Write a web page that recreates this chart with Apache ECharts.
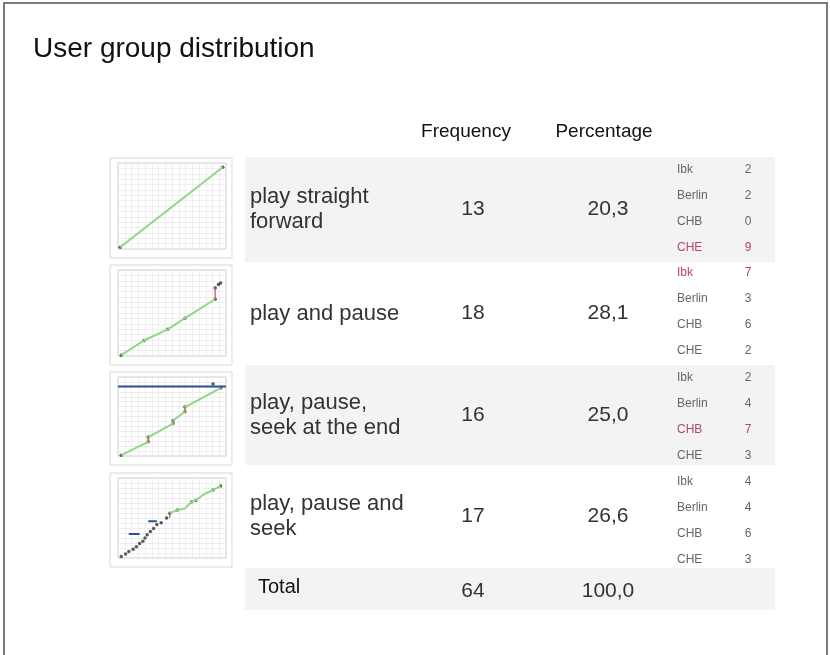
<!DOCTYPE html>
<html><head><meta charset="utf-8">
<script src="https://cdn.jsdelivr.net/npm/echarts@6/dist/echarts.min.js"></script>
<style>html,body{margin:0;padding:0;background:#fff}#c{width:830px;height:655px}</style>
</head><body><div id="c"></div>
<script>
// ---- data ----
var behaviors = ['play straight\nforward', 'play and pause', 'play, pause,\nseek at the end', 'play, pause and\nseek'];
var frequency = [13, 18, 16, 17];
var percentage = ['20,3', '28,1', '25,0', '26,6'];
var totalFrequency = 64;
var totalPercentage = '100,0';
var cities = ['Ibk', 'Berlin', 'CHB', 'CHE'];
var cityCounts = [[2, 2, 0, 9], [7, 3, 6, 2], [2, 4, 7, 3], [4, 4, 6, 3]];
var highlightCity = [3, 0, 2, -1];
// thumbnail traces (normalised 0-100 playback coordinates)
var thumbGreen = [
  [[2, 2], [97, 95]],
  [[3, 1], [24, 18], [46, 31], [62, 44], [90, 66]],
  [[3, 1], [28, 18], [28, 24], [51, 41], [51, 45], [62, 56], [62, 62], [95, 86]],
  [[48, 56], [55, 60], [62, 62], [68, 70], [72, 72], [80, 80], [88, 85], [95, 90]]
];
var thumbRed = [
  [],
  [[90, 66], [90, 79]],
  [[28, 18], [28, 24], null, [51, 41], [51, 45], null, [62, 56], [62, 62]],
  [[48, 50], [48, 56]]
];
var thumbBlue = [
  [],
  [],
  [[0, 88], [100, 88]],
  [[10, 30], [20, 30], null, [28, 46], [36, 46]]
];
var thumbMarks = [
  [[2, 2], [97, 95]],
  [[3, 1], [24, 18], [46, 31], [62, 44], [90, 66], [90, 79], [93, 83], [95, 85]],
  [[3, 1], [28, 18], [28, 24], [51, 41], [51, 45], [62, 56], [62, 62], [88, 91], [95, 86]],
  [[3, 2], [7, 5], [10, 8], [14, 11], [17, 14], [20, 18], [23, 21], [25, 25], [27, 29], [30, 33],
   [33, 37], [36, 42], [40, 44], [45, 50], [48, 56], [55, 60], [68, 70], [72, 72], [88, 85], [95, 90]]
];

// ---- layout ----
var rowTop = [157, 262, 365, 465];
var rowH = [105, 103, 100, 102];
var cityStartY = [170, 273, 378, 482];
var thumbBox = [[110, 158, 122, 100], [110, 265, 122, 100], [110, 372, 122, 93], [110, 473, 122, 94]];
var colFreqX = 473, colPctX = 608;
var fontMain = '"Liberation Sans", Arial, sans-serif';

var graphic = [];
graphic.push({type: 'rect', shape: {x: 4, y: 3, width: 823, height: 670}, style: {fill: 'none', stroke: '#7a7a7a', lineWidth: 2}, silent: true});
graphic.push({type: 'text', x: 33, y: 49, style: {text: 'User group distribution', font: '28px ' + fontMain, fill: '#111', textVerticalAlign: 'middle'}});
graphic.push({type: 'text', x: 466, y: 132, style: {text: 'Frequency', font: '19px ' + fontMain, fill: '#111', textAlign: 'center', textVerticalAlign: 'middle'}});
graphic.push({type: 'text', x: 604, y: 132, style: {text: 'Percentage', font: '19px ' + fontMain, fill: '#111', textAlign: 'center', textVerticalAlign: 'middle'}});

// shaded rows
[0, 2].forEach(function (i) {
  graphic.push({type: 'rect', z: -1, shape: {x: 245, y: rowTop[i], width: 530, height: rowH[i]}, style: {fill: '#f3f3f3'}});
});
graphic.push({type: 'rect', z: -1, shape: {x: 245, y: 568, width: 530, height: 42}, style: {fill: '#f3f3f3'}});

behaviors.forEach(function (b, i) {
  var cy = rowTop[i] + rowH[i] / 2;
  graphic.push({type: 'text', x: 250, y: cy, style: {text: b, font: '22px ' + fontMain, fill: '#333', textVerticalAlign: 'middle', lineHeight: 25}});
  graphic.push({type: 'text', x: colFreqX, y: cy, style: {text: String(frequency[i]), font: '21px ' + fontMain, fill: '#333', textAlign: 'center', textVerticalAlign: 'middle'}});
  graphic.push({type: 'text', x: colPctX, y: cy, style: {text: percentage[i], font: '21px ' + fontMain, fill: '#333', textAlign: 'center', textVerticalAlign: 'middle'}});
  cities.forEach(function (c, j) {
    var y = cityStartY[i] + j * 25.8;
    var col = highlightCity[i] === j ? '#b24a64' : '#666';
    graphic.push({type: 'text', x: 677, y: y, style: {text: c, font: '12px ' + fontMain, fill: col, textVerticalAlign: 'middle'}});
    graphic.push({type: 'text', x: 748, y: y, style: {text: String(cityCounts[i][j]), font: '12px ' + fontMain, fill: col, textAlign: 'center', textVerticalAlign: 'middle'}});
  });
  var tb = thumbBox[i];
  graphic.push({type: 'rect', z: -1, shape: {x: tb[0], y: tb[1], width: tb[2], height: tb[3]}, style: {fill: '#fff', stroke: '#d8d8d8', lineWidth: 1}});
});
graphic.push({type: 'text', x: 258, y: 587, style: {text: 'Total', font: '20px ' + fontMain, fill: '#111', textVerticalAlign: 'middle'}});
graphic.push({type: 'text', x: colFreqX, y: 591, style: {text: String(totalFrequency), font: '21px ' + fontMain, fill: '#333', textAlign: 'center', textVerticalAlign: 'middle'}});
graphic.push({type: 'text', x: colPctX, y: 591, style: {text: totalPercentage, font: '21px ' + fontMain, fill: '#333', textAlign: 'center', textVerticalAlign: 'middle'}});

var grids = [], xAxes = [], yAxes = [], series = [];
thumbBox.forEach(function (tb, i) {
  grids.push({left: tb[0] + 8, top: tb[1] + 5, width: tb[2] - 14, height: tb[3] - 14, show: true, borderColor: '#cfcfcf', borderWidth: 1, backgroundColor: '#fff'});
  var ax = {gridIndex: i, type: 'value', min: 0, max: 100, interval: 6.25,
    axisLine: {show: false}, axisTick: {show: false}, axisLabel: {show: false},
    splitLine: {show: true, lineStyle: {color: '#e4e4e4', width: 0.6}}};
  xAxes.push(Object.assign({}, ax));
  yAxes.push(Object.assign({}, ax));
  series.push({type: 'line', xAxisIndex: i, yAxisIndex: i, data: thumbBlue[i], showSymbol: false, connectNulls: false, lineStyle: {color: '#2f4f9a', width: 2}, silent: true, animation: false});
  series.push({type: 'line', xAxisIndex: i, yAxisIndex: i, data: thumbGreen[i], showSymbol: false, lineStyle: {color: '#8ed885', width: 2}, silent: true, animation: false});
  series.push({type: 'line', xAxisIndex: i, yAxisIndex: i, data: thumbRed[i], showSymbol: false, connectNulls: false, lineStyle: {color: '#d0505a', width: 1.2}, silent: true, animation: false});
  series.push({type: 'scatter', xAxisIndex: i, yAxisIndex: i, data: thumbMarks[i], symbolSize: 3.5, itemStyle: {color: '#333'}, silent: true, animation: false});
});

var chart = echarts.init(document.getElementById('c'), null, {renderer: 'canvas'});
chart.setOption({
  animation: false,
  backgroundColor: '#fff',
  grid: grids, xAxis: xAxes, yAxis: yAxes, series: series,
  graphic: graphic
});
</script></body></html>
